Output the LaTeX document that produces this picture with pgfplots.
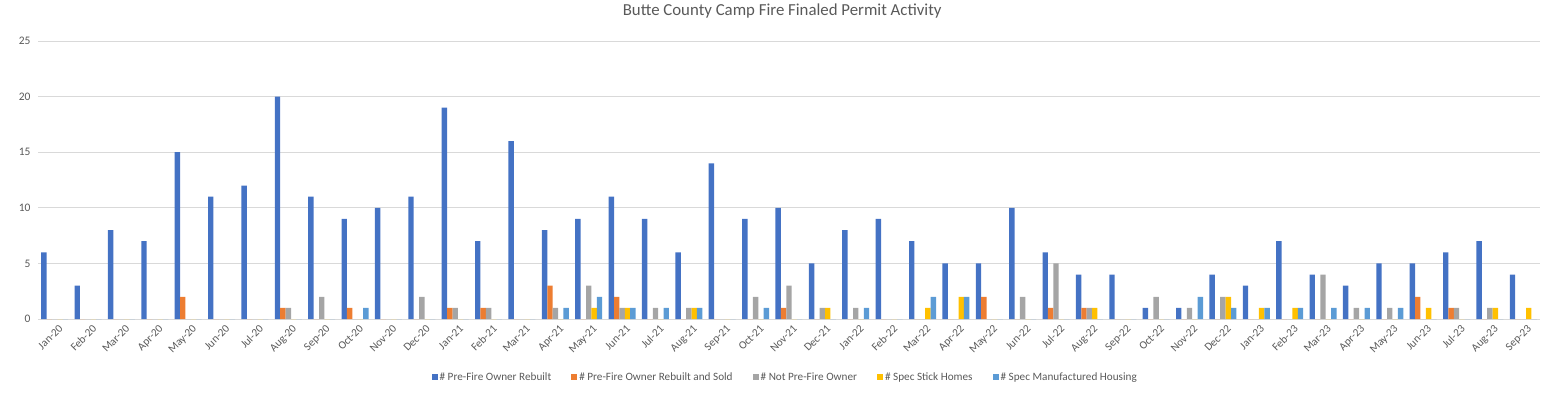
\documentclass[border=0pt]{standalone}
\usepackage{pgfplots}
\pgfplotsset{compat=1.18}
\usepackage{pgfplotstable}
\usepackage{fontspec}
\setmainfont{Carlito}
\definecolor{sA}{HTML}{4472C4}
\definecolor{sB}{HTML}{ED7D31}
\definecolor{sC}{HTML}{A5A5A5}
\definecolor{sD}{HTML}{FFC000}
\definecolor{sE}{HTML}{5B9BD5}
\definecolor{txt}{HTML}{595959}
\definecolor{grd}{HTML}{D9D9D9}
\pgfplotstableread{
x a b c d e
0 6 0 0 0 0
1 3 0 0 0 0
2 8 0 0 0 0
3 7 0 0 0 0
4 15 2 0 0 0
5 11 0 0 0 0
6 12 0 0 0 0
7 20 1 1 0 0
8 11 0 2 0 0
9 9 1 0 0 1
10 10 0 0 0 0
11 11 0 2 0 0
12 19 1 1 0 0
13 7 1 1 0 0
14 16 0 0 0 0
15 8 3 1 0 1
16 9 0 3 1 2
17 11 2 1 1 1
18 9 0 1 0 1
19 6 0 1 1 1
20 14 0 0 0 0
21 9 0 2 0 1
22 10 1 3 0 0
23 5 0 1 1 0
24 8 0 1 0 1
25 9 0 0 0 0
26 7 0 0 1 2
27 5 0 0 2 2
28 5 2 0 0 0
29 10 0 2 0 0
30 6 1 5 0 0
31 4 1 1 1 0
32 4 0 0 0 0
33 1 0 2 0 0
34 1 0 1 0 2
35 4 0 2 2 1
36 3 0 0 1 1
37 7 0 0 1 1
38 4 0 4 0 1
39 3 0 1 0 1
40 5 0 1 0 1
41 5 2 0 1 0
42 6 1 1 0 0
43 7 0 1 1 0
44 4 0 0 1 0
}\datatable
\begin{document}
\begin{tikzpicture}
\path[use as bounding box] (-38pt,-73pt) rectangle (1514pt,319pt);
\begin{axis}[
  at={(0pt,0pt)}, anchor=south west,
  scale only axis, width=1502pt, height=278pt,
  ybar=0pt, bar width=5.4pt,
  xmin=-0.5, xmax=44.5, ymin=0, ymax=25,
  ytick={0,5,10,15,20,25},
  xtick={0,...,44},
  xticklabels={Jan-20,Feb-20,Mar-20,Apr-20,May-20,Jun-20,Jul-20,Aug-20,Sep-20,Oct-20,Nov-20,Dec-20,Jan-21,Feb-21,Mar-21,Apr-21,May-21,Jun-21,Jul-21,Aug-21,Sep-21,Oct-21,Nov-21,Dec-21,Jan-22,Feb-22,Mar-22,Apr-22,May-22,Jun-22,Jul-22,Aug-22,Sep-22,Oct-22,Nov-22,Dec-22,Jan-23,Feb-23,Mar-23,Apr-23,May-23,Jun-23,Jul-23,Aug-23,Sep-23},
  xticklabel style={rotate=45, anchor=north east, font=\fontsize{11.2}{12}\selectfont, text=txt, inner sep=1pt, xshift=0pt, yshift=-5pt},
  yticklabel style={font=\fontsize{11.5}{12}\selectfont, text=txt, xshift=-4pt},
  /pgf/number format/assume math mode=true,
  major tick length=0pt,
  ymajorgrids, grid style={grd, line width=0.8pt},
  axis lines*=left,
  y axis line style={draw=none},
  x axis line style={grd, line width=0.8pt, -},
  title={Butte County Camp Fire Finaled Permit Activity},
  title style={at={(0.4955,1.0863)}, anchor=center, font=\fontsize{16.8}{18}\selectfont, text=txt},
  legend columns=5,
  legend style={at={(0.4975,-0.2086)}, anchor=center, draw=none, fill=none,
    font=\fontsize{11.2}{12}\selectfont, text=txt,
    /tikz/every even column/.append style={column sep=18pt}},
  legend image code/.code={\fill[#1] (0pt,-3pt) rectangle (6pt,3pt);},
]
\addplot[fill=sA, draw=none] table[x=x, y=a] {\datatable};
\addplot[fill=sB, draw=none] table[x=x, y=b] {\datatable};
\addplot[fill=sC, draw=none] table[x=x, y=c] {\datatable};
\addplot[fill=sD, draw=none] table[x=x, y=d] {\datatable};
\addplot[fill=sE, draw=none] table[x=x, y=e] {\datatable};
\legend{\# Pre-Fire Owner Rebuilt, \# Pre-Fire Owner Rebuilt and Sold, \# Not Pre-Fire Owner, \# Spec Stick Homes, \# Spec Manufactured Housing}
\end{axis}
\end{tikzpicture}
\end{document}
